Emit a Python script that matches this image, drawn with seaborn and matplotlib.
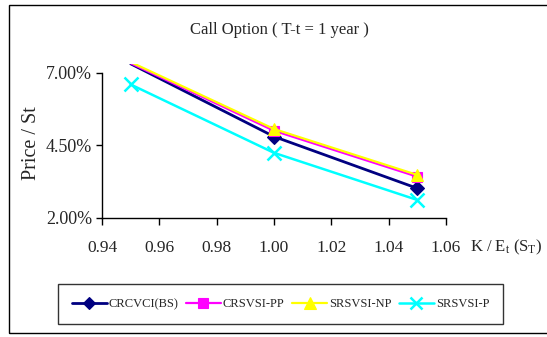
import numpy as np
import pandas as pd
import matplotlib
matplotlib.use("Agg")
import matplotlib.pyplot as plt
from matplotlib.lines import Line2D
from matplotlib.patches import Rectangle
from matplotlib.ticker import PercentFormatter, FixedLocator
import seaborn as sns

# ---- data ----
strikes = [0.95, 1.00, 1.05]
series_names = ["CRCVCI(BS)", "CRSVSI-PP", "SRSVSI-NP", "SRSVSI-P"]
crcvci_bs = [0.0730, 0.0480, 0.0302]
crsvsi_pp = [0.0732, 0.0500, 0.0342]
srsvsi_np = [0.0736, 0.0506, 0.0348]
srsvsi_p = [0.0659, 0.0424, 0.0262]
x_ticks = [0.94, 0.96, 0.98, 1.00, 1.02, 1.04, 1.06]
y_ticks = [0.02, 0.045, 0.07]

colors = ["#000080", "#FF00FF", "#FFFF00", "#00FFFF"]
markers = ["D", "s", "^", "x"]
msizes = [7.5, 7.5, 9, 9.5]
lwidths = [2.0, 1.6, 1.6, 1.8]

y_top = 0.0728

sns.set_theme(style="white")
plt.rcParams["font.family"] = ["Liberation Serif", "DejaVu Serif"]
plt.rcParams["mathtext.fontset"] = "custom"
plt.rcParams["mathtext.rm"] = "Liberation Serif"
plt.rcParams["mathtext.it"] = "Liberation Serif:italic"

fig = plt.figure(figsize=(5.47, 3.37), dpi=100)
fig.patch.set_facecolor("white")
ax = fig.add_axes([102 / 547, 1 - 218 / 337, (446 - 102) / 547, (218 - 64.4) / 337])
ax.set_facecolor("white")

all_vals = [crcvci_bs, crsvsi_pp, srsvsi_np, srsvsi_p]
handles = []
for name, vals, c, m, ms, lw in zip(series_names, all_vals, colors, markers, msizes, lwidths):
    df = pd.DataFrame({"x": strikes, "y": vals})
    visible = [i for i, v in enumerate(vals) if v <= y_top]
    sns.lineplot(data=df, x="x", y="y", color=c, linewidth=lw, marker=m,
                 markersize=ms, markeredgewidth=1.8 if m == "x" else 0.8,
                 markeredgecolor=c, markerfacecolor=c, markevery=visible,
                 ax=ax, legend=False, zorder=3)
    handles.append(Line2D([0], [0], color=c, linewidth=lw, marker=m,
                          markersize=ms - 1, markeredgewidth=1.8 if m == "x" else 0.8,
                          markeredgecolor=c, markerfacecolor=c))

ax.set_xlim(0.94, 1.06)
ax.set_ylim(0.02, y_top)
ax.xaxis.set_major_locator(FixedLocator(x_ticks))
ax.yaxis.set_major_locator(FixedLocator(y_ticks))
ax.yaxis.set_major_formatter(PercentFormatter(1, decimals=2))
ax.set_xticklabels([f"{t:.2f}" for t in x_ticks])
ax.set_xlabel("")
ax.set_ylabel("")
for s in ["top", "right"]:
    ax.spines[s].set_visible(False)
for s in ["left", "bottom"]:
    ax.spines[s].set_color("black")
    ax.spines[s].set_linewidth(1.0)
ax.spines["left"].set_bounds(0.02, 0.07)
ax.tick_params(axis="x", direction="out", length=5, width=1, color="black",
               labelsize=12.5, pad=11, bottom=True)
ax.tick_params(axis="y", direction="out", length=4, width=1, color="black",
               labelsize=13, pad=3, left=True)
ax.grid(False)

fig.text(279.5 / 547, 1 - 30 / 337, "Call Option ( T-t = 1 year )",
         ha="center", va="center", fontsize=12)
fig.text(31 / 547, 1 - 143.5 / 337, "Price / St", rotation=90,
         ha="center", va="center", fontsize=14.5)
fig.text(470 / 547, 1 - 247 / 337, r"K / E$_\mathrm{t}$ (S$_\mathrm{T}$)",
         ha="left", va="center", fontsize=12)

leg = fig.legend(handles, series_names, loc="center",
                 bbox_to_anchor=(280.5 / 547, 1 - 304 / 337), ncol=4,
                 fontsize=9, frameon=True, fancybox=False, handlelength=2.8,
                 handletextpad=0.15, columnspacing=0.6, borderpad=1.1)
leg.get_frame().set_edgecolor("black")
leg.get_frame().set_linewidth(1.0)

fig.patches.append(Rectangle((8.5 / 547, 1 - 333 / 337), 1.2, (333 - 5) / 337,
                             transform=fig.transFigure, fill=False,
                             edgecolor="black", linewidth=1.0))

fig.savefig("out.png", dpi=100, facecolor="white")
